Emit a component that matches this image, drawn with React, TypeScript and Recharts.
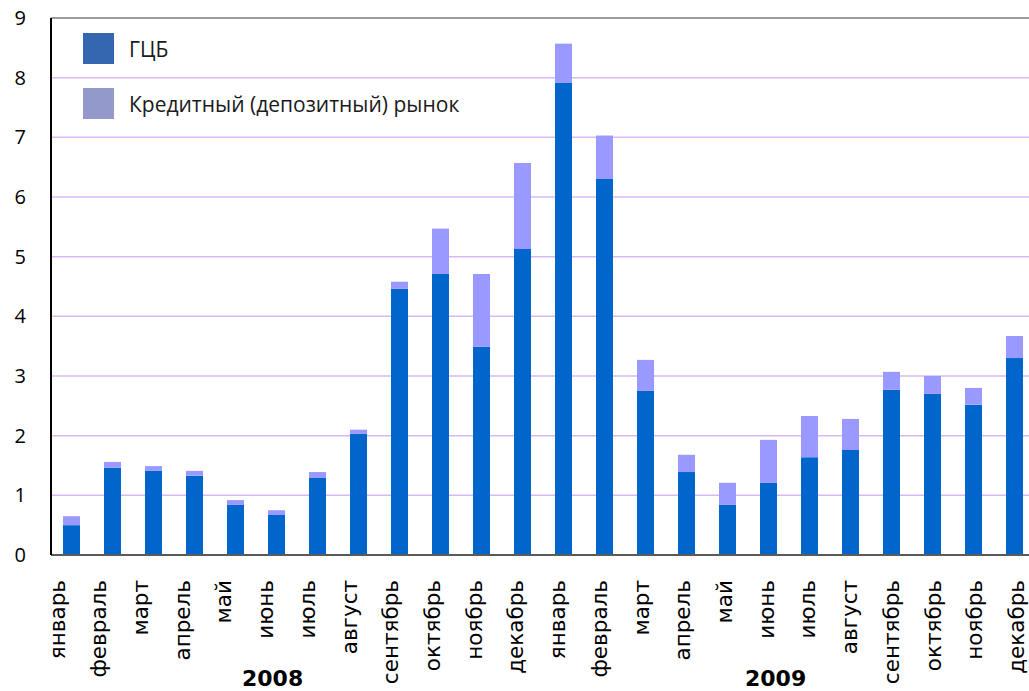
import React from 'react';
import {
  BarChart,
  Bar,
  XAxis,
  YAxis,
  CartesianGrid,
  ReferenceLine,
} from 'recharts';

// подписи месяцев (2008 + 2009)
const months = [
  'январь', 'февраль', 'март', 'апрель', 'май', 'июнь',
  'июль', 'август', 'сентябрь', 'октябрь', 'ноябрь', 'декабрь',
  'январь', 'февраль', 'март', 'апрель', 'май', 'июнь',
  'июль', 'август', 'сентябрь', 'октябрь', 'ноябрь', 'декабрь',
];

// ГЦБ
const gcb = [
  0.5, 1.46, 1.41, 1.33, 0.84, 0.67, 1.29, 2.03, 4.46, 4.71, 3.49, 5.13,
  7.92, 6.31, 2.75, 1.39, 0.84, 1.21, 1.64, 1.76, 2.77, 2.7, 2.52, 3.3,
];

// Кредитный (депозитный) рынок
const credit = [
  0.15, 0.1, 0.08, 0.08, 0.08, 0.08, 0.1, 0.07, 0.12, 0.76, 1.22, 1.44,
  0.65, 0.72, 0.52, 0.29, 0.37, 0.72, 0.69, 0.52, 0.3, 0.3, 0.28, 0.37,
];

const yTicks = [0, 1, 2, 3, 4, 5, 6, 7, 8, 9];
const years = ['2008', '2009'];

const data = months.map((m, i) => ({
  key: `${m}-${i}`,
  name: m,
  gcb: gcb[i],
  credit: credit[i],
}));

// подписи идут с чуть большим шагом, чем столбики
const MonthTick = (props: any) => {
  const { x, y, payload } = props;
  const idx = payload.index ?? 0;
  const tx = x - 7 + idx * 0.72;
  const ty = y + 17;
  return (
    <text
      x={tx}
      y={ty}
      transform={`rotate(-90 ${tx} ${ty})`}
      textAnchor="end"
      fontSize={21.5}
      fontFamily="DejaVu Sans, sans-serif"
      fill="#000"
    >
      {months[idx] ?? payload.value}
    </text>
  );
};

const legendItems = [
  { label: 'ГЦБ', color: '#3467B0' },
  { label: 'Кредитный (депозитный) рынок', color: '#9499CB' },
];

export default function App() {
  return (
    <div
      style={{
        position: 'fixed',
        top: 0,
        left: 0,
        width: 1029,
        height: 691,
        overflow: 'hidden',
        background: '#fff',
      }}
    >
      <BarChart
        width={1035}
        height={691}
        data={data}
        margin={{ top: 18, right: 0, bottom: 0, left: 0 }}
        barSize={17}
      >
        <CartesianGrid horizontal vertical={false} stroke="#D9B8F8" strokeWidth={1.5} />
        <XAxis
          dataKey="key"
          height={136}
          interval={0}
          tick={<MonthTick />}
          tickLine={false}
          axisLine={{ stroke: '#5a5a5a', strokeWidth: 2 }}
        />
        <YAxis
          width={51}
          domain={[0, 9]}
          ticks={yTicks}
          interval={0}
          tickSize={0}
          tickMargin={25}
          tickLine={false}
          axisLine={{ stroke: '#000', strokeWidth: 2 }}
          tick={{ fontSize: 20, fontFamily: 'Open Sans', fill: '#000' }}
        />
        <ReferenceLine y={9} stroke="#888" strokeWidth={1.5} />
        <Bar dataKey="gcb" stackId="a" fill="#0066CC" isAnimationActive={false} />
        <Bar dataKey="credit" stackId="a" fill="#9999FF" isAnimationActive={false} />
      </BarChart>
      <div style={{ position: 'absolute', left: 83, top: 33 }}>
        {legendItems.map((it) => (
          <div key={it.label} style={{ display: 'flex', alignItems: 'center', height: 31, marginBottom: 24 }}>
            <div style={{ width: 31, height: 31, background: it.color }} />
            <span
              style={{
                marginLeft: 15,
                fontFamily: 'Open Sans',
                fontSize: 21,
                color: '#1a1a1a',
              }}
            >
              {it.label}
            </span>
          </div>
        ))}
      </div>
      {years.map((y, i) => (
        <div
          key={y}
          style={{
            position: 'absolute',
            left: i === 0 ? 242 : 745,
            top: 666,
            fontFamily: 'DejaVu Sans',
            fontWeight: 'bold',
            fontSize: 22,
            color: '#000',
          }}
        >
          {y}
        </div>
      ))}
    </div>
  );
}
